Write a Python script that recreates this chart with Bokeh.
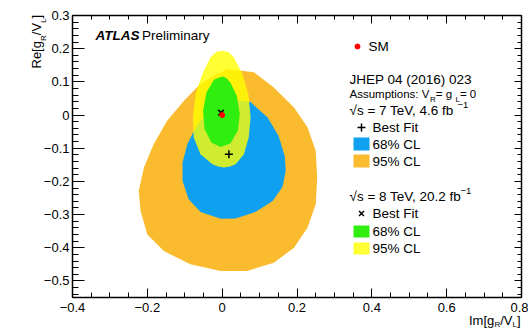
import numpy as np
from bokeh.plotting import figure
from bokeh.models import Label, LinearAxis, FixedTicker, Range1d
from bokeh.embed import file_html
from bokeh.resources import INLINE

# ---- contour data: Im[g_R/V_L] (x) vs Re[g_R/V_L] (y) ----
# sqrt(s) = 7 TeV, 95% CL
orange_x = [0.014, 0.085, 0.138, 0.192, 0.228, 0.250, 0.254, 0.250, 0.228, 0.192, 0.138, 0.067,
            -0.004, -0.085, -0.156, -0.200, -0.218, -0.223, -0.209, -0.183, -0.147, -0.102, -0.058, -0.013]
orange_y = [0.139, 0.129, 0.083, 0.023, -0.037, -0.108, -0.189, -0.269, -0.340, -0.400, -0.445, -0.470,
            -0.470, -0.450, -0.410, -0.360, -0.289, -0.229, -0.158, -0.088, -0.017, 0.043, 0.094, 0.124]
# sqrt(s) = 7 TeV, 68% CL
blue_x = [0.022, 0.076, 0.121, 0.151, 0.167, 0.170, 0.161, 0.135, 0.089, 0.036, -0.004, -0.058,
          -0.090, -0.106, -0.106, -0.093, -0.068, -0.031]
blue_y = [0.048, 0.039, -0.007, -0.063, -0.123, -0.168, -0.217, -0.259, -0.292, -0.312, -0.313, -0.292,
          -0.253, -0.198, -0.144, -0.087, -0.032, 0.019]
# sqrt(s) = 8 TeV, 95% CL
yellow_x = [0.000, 0.016, 0.031, 0.054, 0.070, 0.076, 0.071, 0.058, 0.036, 0.021, 0.005, -0.011,
            -0.026, -0.058, -0.076, -0.078, -0.071, -0.053, -0.031, -0.016]
yellow_y = [0.194, 0.190, 0.174, 0.124, 0.063, -0.007, -0.068, -0.118, -0.148, -0.155, -0.158, -0.155,
            -0.148, -0.118, -0.068, -0.007, 0.063, 0.124, 0.174, 0.190]
# sqrt(s) = 8 TeV, 68% CL
green_x = [0.002, 0.012, 0.022, 0.039, 0.047, 0.042, 0.022, -0.004, -0.029, -0.047, -0.051, -0.042, -0.022, -0.010]
green_y = [0.116, 0.111, 0.098, 0.058, 0.003, -0.047, -0.086, -0.096, -0.083, -0.042, 0.013, 0.068, 0.106, 0.112]

# best-fit points and Standard Model expectation
best7_x, best7_y = [0.018], [-0.118]
best8_x, best8_y = [-0.003], [0.007]
sm_x, sm_y = [0.0], [0.0]

x_ticks = [-0.4, -0.2, 0.0, 0.2, 0.4, 0.6, 0.8]
x_tick_labels = ["\u22120.4", "\u22120.2", "0", "0.2", "0.4", "0.6", "0.8"]
y_ticks = [-0.5, -0.4, -0.3, -0.2, -0.1, 0.0, 0.1, 0.2, 0.3]
y_tick_labels = ["\u22120.5", "\u22120.4", "\u22120.3", "\u22120.2", "\u22120.1", "0", "0.1", "0.2", "0.3"]

COL_ORANGE = "#fbbb2e"
COL_BLUE = "#10a0f0"
COL_YELLOW = "#ffff00"
COL_GREEN = "#30ee10"
YELLOW_ALPHA = 0.8
FONT = "Liberation Sans"

# ---- layout: the data box [X0, X1] x [Y0, Y1] sits at these canvas pixels ----
W, H = 528, 328
LEFT, RIGHT, TOP, BOTTOM = 72, 7, 15, 31
X0, X1, Y0, Y1 = -0.4, 0.8, -0.55, 0.3
FW, FH = W - LEFT - RIGHT, H - TOP - BOTTOM


def px(xp):
    """canvas pixel column -> data x"""
    return X0 + (xp - LEFT) / FW * (X1 - X0)


def py(yp):
    """canvas pixel row -> data y"""
    return Y1 - (yp - TOP) / FH * (Y1 - Y0)


# the frame spans the whole canvas; axes are pinned to the edges of the data box,
# so tick labels and axis titles stay inside the drawable area
p = figure(width=W, height=H,
           x_range=Range1d(px(0), px(W)), y_range=Range1d(py(H), py(0)),
           output_backend="svg", toolbar_location=None, min_border=0)
p.xgrid.visible = False
p.ygrid.visible = False
p.outline_line_color = None
p.background_fill_color = "white"
p.border_fill_color = "white"

x_minor = list(np.round(np.arange(-0.4, 0.8001, 0.05), 3))
y_minor = list(np.round(np.arange(-0.54, 0.3001, 0.02), 3))


def style_axis(ax, ticks, minors, labels, bounds, loc, major, minor):
    ax.ticker = FixedTicker(ticks=ticks, minor_ticks=minors)
    ax.bounds = bounds
    ax.fixed_location = loc
    ax.axis_line_color = "black"
    ax.axis_line_width = 1.5
    ax.major_tick_line_color = "black"
    ax.minor_tick_line_color = "black"
    ax.major_tick_line_width = 1
    ax.minor_tick_line_width = 1
    ax.major_tick_in = major
    ax.major_tick_out = 0
    ax.minor_tick_in = minor
    ax.minor_tick_out = 0
    if labels is not None:
        ax.major_label_overrides = {t: s for t, s in zip(ticks, labels)}
        ax.major_label_text_font = FONT
        ax.major_label_text_font_size = "13px"
        ax.major_label_text_color = "black"
    else:
        ax.major_label_text_color = None


style_axis(p.xaxis[0], x_ticks, x_minor, x_tick_labels, (X0, X1), Y0, 9, 5)
p.xaxis[0].major_label_standoff = 5
style_axis(p.yaxis[0], y_ticks, y_minor, y_tick_labels, (Y0, Y1), X0, 12, 6)
p.yaxis[0].major_label_standoff = 3

top_axis = LinearAxis()
style_axis(top_axis, x_ticks, x_minor, None, (X0, X1), Y1, 8, 4)
p.add_layout(top_axis, "above")
right_axis = LinearAxis()
style_axis(right_axis, y_ticks, y_minor, None, (Y0, Y1), X1, 7, 4)
p.add_layout(right_axis, "right")

# ---- contours ----
p.patch(orange_x, orange_y, fill_color=COL_ORANGE, line_color=None)
p.patch(blue_x, blue_y, fill_color=COL_BLUE, line_color=None)
p.patch(yellow_x, yellow_y, fill_color=COL_YELLOW, fill_alpha=YELLOW_ALPHA, line_color=None)
p.patch(green_x, green_y, fill_color=COL_GREEN, line_color=None)

p.scatter(best8_x, best8_y, marker="x", size=8, line_color="black", line_width=1.5)
p.scatter(sm_x, sm_y, marker="circle", size=5, fill_color="red", line_color="red")
p.scatter(best7_x, best7_y, marker="cross", size=8, line_color="black", line_width=1.5)


def label(x, y, text, size="13.5px", style="normal", align="left", angle=0.0):
    p.add_layout(Label(x=px(x), y=py(y), text=text, text_font=FONT, text_font_size=size,
                       text_font_style=style, text_align=align, text_baseline="middle",
                       text_color="black", angle=angle))


# ---- titles ----
label(95, 35, "ATLAS", size="13.5px", style="bold italic")
label(141.5, 35, "Preliminary")

# x-axis title: Im[g_R/V_L]
label(468.5, 320, "Im[g", size="13px")
label(494, 323.5, "R", size="8px")
label(499.7, 320, "/V", size="13px")
label(512, 323.5, "L", size="8px")
label(516.4, 320, "]", size="13px")

# y-axis title: Re[g_R/V_L] (rotated)
ang = np.pi / 2
label(36, 68, "Re[g", size="13px", angle=ang)
label(42.5, 40.5, "R", size="8px", angle=ang)
label(36, 34.7, "/V", size="13px", angle=ang)
label(42.5, 22.4, "L", size="8px", angle=ang)
label(36, 18, "]", size="13px", angle=ang)

# ---- legend ----
p.scatter([px(357)], [py(46)], marker="circle", size=5, fill_color="red", line_color="red")
label(368, 46, "SM")
label(349, 79, "JHEP 04 (2016) 023")

label(349, 93, "Assumptions: V", size="11.5px")
label(429.5, 99, "R", size="8px")
label(435.3, 93, " = g", size="11.5px")
label(455, 99, "L", size="8px")
label(459.4, 93, " = 0", size="11.5px")

label(349, 110, "\u221as = 7 TeV, 4.6 fb")
label(457, 104, "\u22121", size="9.5px")
p.scatter([px(361)], [py(127)], marker="cross", size=8, line_color="black", line_width=1.5)
label(372, 127, "Best Fit")
p.quad(left=[px(353)], right=[px(369)], top=[py(137)], bottom=[py(150)],
       fill_color=COL_BLUE, line_color=None)
label(372, 143.5, "68% CL")
p.quad(left=[px(353)], right=[px(369)], top=[py(154)], bottom=[py(167)],
       fill_color=COL_ORANGE, line_color=None)
label(372, 160.5, "95% CL")

label(349, 196, "\u221as = 8 TeV, 20.2 fb")
label(460, 190, "\u22121", size="9.5px")
p.scatter([px(361)], [py(213)], marker="x", size=7, line_color="black", line_width=1.5)
label(372, 213, "Best Fit")
p.quad(left=[px(353)], right=[px(369)], top=[py(225)], bottom=[py(237)],
       fill_color=COL_GREEN, line_color=None)
label(372, 231, "68% CL")
p.quad(left=[px(353)], right=[px(369)], top=[py(242)], bottom=[py(254)],
       fill_color=COL_YELLOW, fill_alpha=YELLOW_ALPHA, line_color=None)
label(372, 248, "95% CL")

open("out.html", "w").write(file_html(p, INLINE))
